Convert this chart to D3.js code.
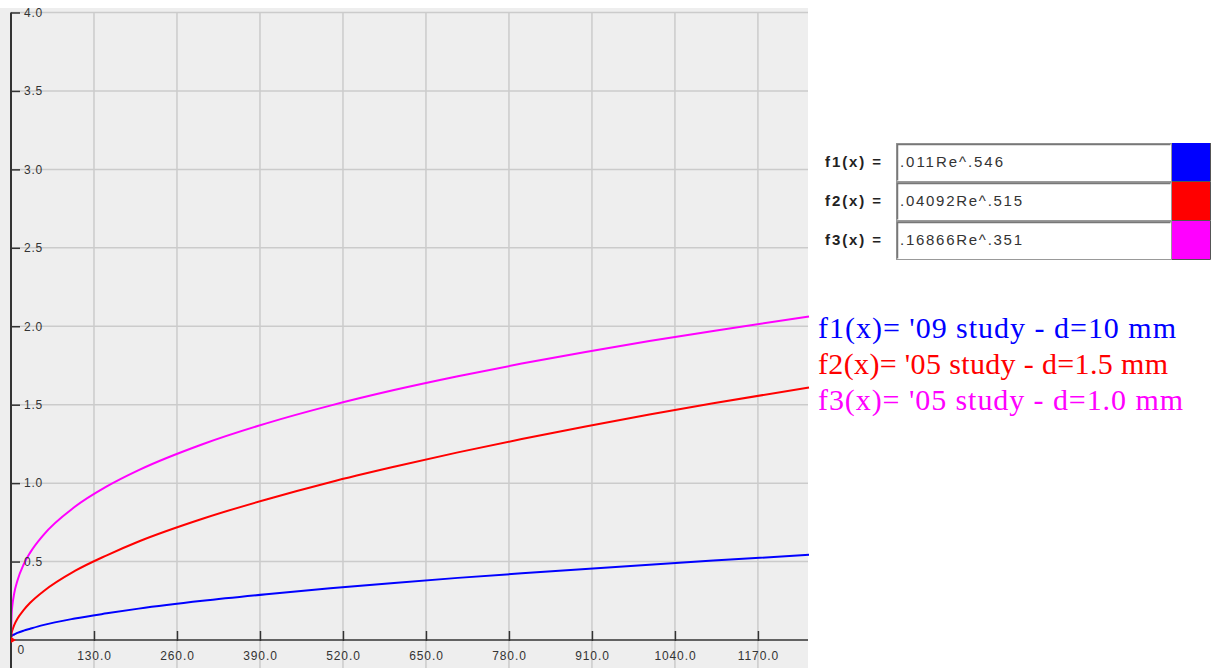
<!DOCTYPE html>
<html>
<head>
<meta charset="utf-8">
<script src="https://cdn.jsdelivr.net/npm/d3@7"></script>
<style>
  body { margin: 0; background: #fff; }
  svg { display: block; }
</style>
</head>
<body>
<div id="chart"></div>
<script>
// Reynolds number samples and values
const reValues = [0, 1, 2, 5, 10, 20, 30, 50, 100, 150, 200, 300, 400, 500, 600, 700, 800, 900, 1000, 1100, 1250]
const f1Values = [0.02, 0.025, 0.03, 0.035, 0.045, 0.06, 0.072, 0.095, 0.137, 0.17, 0.2, 0.25, 0.292, 0.33, 0.364, 0.396, 0.425, 0.453, 0.48, 0.506, 0.543]
const f2Values = [0.0, 0.045, 0.06, 0.095, 0.135, 0.192, 0.237, 0.308, 0.44, 0.54, 0.628, 0.773, 0.896, 1.006, 1.104, 1.196, 1.281, 1.361, 1.437, 1.509, 1.61]
const f3Values = [0.0, 0.17, 0.215, 0.297, 0.378, 0.483, 0.557, 0.666, 0.849, 0.979, 1.083, 1.248, 1.381, 1.494, 1.593, 1.681, 1.762, 1.836, 1.906, 1.97, 2.062]

const xTicks = [0, 130, 260, 390, 520, 650, 780, 910, 1040, 1170]
const yTicks = [0.5, 1.0, 1.5, 2.0, 2.5, 3.0, 3.5, 4.0]

const seriesNames = ["f1(x) =", "f2(x) =", "f3(x) ="]
const formulas = [".011Re^.546", ".04092Re^.515", ".16866Re^.351"]
const legendTexts = ["f1(x)= '09 study - d=10 mm", "f2(x)= '05 study - d=1.5 mm", "f3(x)= '05 study - d=1.0 mm"]
const colors = ["#0000ff", "#ff0000", "#ff00ff"]

const W = 1216, H = 668

const svg = d3.select("#chart").append("svg")
    .attr("width", W)
    .attr("height", H)

// plot panel
svg.append("rect")
    .attr("x", 0).attr("y", 8)
    .attr("width", 808).attr("height", H - 8)
    .attr("fill", "#eeeeee")

const x = d3.scaleLinear().domain([0, 1250]).range([11, 809])
const y = d3.scaleLinear().domain([0, 4]).range([640, 12.5])

// grid
svg.append("g").selectAll("line")
    .data(xTicks.filter(d => d > 0))
    .join("line")
    .attr("x1", d => x(d)).attr("x2", d => x(d))
    .attr("y1", y(4)).attr("y2", H)
    .attr("stroke", "#cbcbcb").attr("stroke-width", 1.5)

svg.append("g").selectAll("line")
    .data(yTicks)
    .join("line")
    .attr("x1", 11).attr("x2", 808)
    .attr("y1", d => y(d)).attr("y2", d => y(d))
    .attr("stroke", "#cbcbcb").attr("stroke-width", 1.5)

// curves
const series = [f1Values, f2Values, f3Values]
const line = d3.line()
    .x(d => x(d[0]))
    .y(d => y(d[1]))
    .curve(d3.curveMonotoneX)

svg.append("g").selectAll("path")
    .data(series)
    .join("path")
    .attr("d", vals => line(reValues.map((r, i) => [r, vals[i]])))
    .attr("fill", "none")
    .attr("stroke", (d, i) => colors[i])
    .attr("stroke-width", 2)

// axes
const tickFont = "Liberation Sans, Arial, sans-serif"
const yAxis = d3.axisRight(y)
    .tickValues(yTicks)
    .tickSize(9)
    .tickPadding(4)
    .tickFormat(d3.format(".1f"))
const gy = svg.append("g")
    .attr("transform", "translate(11,0)")
    .call(yAxis)
gy.select(".domain").remove()
gy.selectAll(".tick line").attr("stroke", "#333").attr("stroke-width", 1.5)
gy.selectAll(".tick text")
    .attr("font-family", tickFont)
    .attr("font-size", 12)
    .attr("letter-spacing", 0.8)
    .attr("fill", "#333")

svg.append("line")
    .attr("x1", 11).attr("x2", 11)
    .attr("y1", y(4)).attr("y2", H)
    .attr("stroke", "#333").attr("stroke-width", 2)

const xAxis = d3.axisBottom(x)
    .tickValues(xTicks)
    .tickSize(10)
    .tickPadding(5)
    .tickFormat(d => d === 0 ? "0" : d3.format(".1f")(d))
const gx = svg.append("g")
    .attr("transform", "translate(0,631)")
    .call(xAxis)
gx.select(".domain").remove()
gx.selectAll(".tick line").attr("stroke", "#333").attr("stroke-width", 1.5)
gx.selectAll(".tick text")
    .attr("font-family", tickFont)
    .attr("font-size", 12)
    .attr("letter-spacing", 0.9)
    .attr("fill", "#333")
    .attr("dy", "1.15em")
// the "0" label sits right of the axis and a bit higher
gx.selectAll(".tick").filter(d => d === 0).select("line").remove()
gx.selectAll(".tick").filter(d => d === 0).select("text")
    .attr("text-anchor", "start")
    .attr("x", 6)
    .attr("dy", "0.7em")

svg.append("line")
    .attr("x1", 11).attr("x2", 808)
    .attr("y1", 640).attr("y2", 640)
    .attr("stroke", "#333").attr("stroke-width", 1.5)

// small red marker at the origin
svg.append("path")
    .attr("d", `M${x(0)},${y(0) - 3} L${x(0) + 5},${y(0)} L${x(0)},${y(0) + 3} Z`)
    .attr("fill", "#ff0000")

// formula boxes
const boxTop = 143, boxH = 39
const rows = svg.append("g").selectAll("g")
    .data(formulas)
    .join("g")
    .attr("transform", (d, i) => "translate(0," + (boxTop + i * boxH) + ")")

rows.append("text")
    .attr("x", 825).attr("y", 24)
    .attr("font-family", tickFont)
    .attr("font-size", 15)
    .attr("font-weight", "bold")
    .attr("fill", "#222")
    .attr("textLength", 56)
    .attr("lengthAdjust", "spacing")
    .text((d, i) => seriesNames[i])

rows.append("rect")
    .attr("x", 896.5).attr("y", 0.5)
    .attr("width", 275).attr("height", boxH - 1)
    .attr("fill", "#fff")
    .attr("stroke", "#999")
    .attr("stroke-width", 1)
rows.append("path")
    .attr("d", "M897.5," + (boxH - 1.5) + " V1.5 H1170.5")
    .attr("fill", "none")
    .attr("stroke", "#777")
    .attr("stroke-width", 1.5)

rows.append("text")
    .attr("x", 900).attr("y", 24)
    .attr("font-family", tickFont)
    .attr("font-size", 15)
    .attr("fill", "#333")
    .attr("textLength", (d, i) => [103, 122, 122][i])
    .attr("lengthAdjust", "spacing")
    .text(d => d)

rows.append("rect")
    .attr("x", 1172).attr("y", 0)
    .attr("width", 38).attr("height", boxH)
    .attr("fill", (d, i) => colors[i])
rows.append("path")
    .attr("d", "M1172," + (boxH - 0.5) + " H1210.5 V0")
    .attr("fill", "none")
    .attr("stroke", "#555")
    .attr("stroke-width", 1)

// legend text
svg.append("g").selectAll("text")
    .data(legendTexts)
    .join("text")
    .attr("x", 818)
    .attr("y", (d, i) => 338 + i * 36)
    .attr("font-family", "Liberation Serif, Times New Roman, serif")
    .attr("font-size", 30)
    .attr("fill", (d, i) => colors[i])
    .attr("textLength", (d, i) => [358, 350, 365][i])
    .attr("lengthAdjust", "spacing")
    .text(d => d)
</script>
</body>
</html>
